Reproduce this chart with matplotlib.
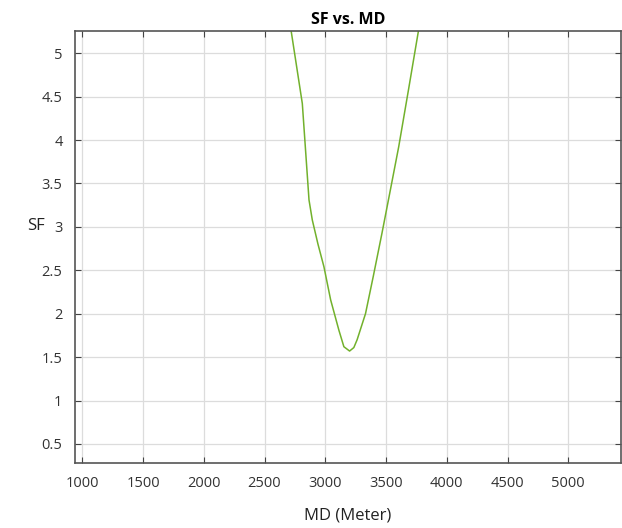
import matplotlib
matplotlib.use("Agg")
import matplotlib.pyplot as plt

# SF vs. MD values
md = [2712, 2811, 2866, 2893, 2940, 2989, 3044, 3112, 3153, 3200, 3235, 3262,
      3331, 3395, 3467, 3535, 3604, 3685, 3772]
sf = [5.32, 4.42, 3.31, 3.08, 2.80, 2.54, 2.16, 1.81, 1.62, 1.57, 1.61, 1.70,
      2.00, 2.43, 2.93, 3.42, 3.92, 4.58, 5.30]

xticks = [1000, 1500, 2000, 2500, 3000, 3500, 4000, 4500, 5000]
yticks = [0.5, 1, 1.5, 2, 2.5, 3, 3.5, 4, 4.5, 5]
ytick_labels = ["0.5", "1", "1.5", "2", "2.5", "3", "3.5", "4", "4.5", "5"]

plt.rcParams["font.family"] = ["Open Sans", "DejaVu Sans"]

fig = plt.figure(figsize=(6.22, 5.28), dpi=100)
ax = fig.add_axes([0.1206, 0.123, 0.877, 0.819])

ax.plot(md, sf, color="#72b12c", lw=1.1)

ax.set_xlim(940, 5430)
ax.set_ylim(0.28, 5.26)
ax.set_xticks(xticks)
ax.set_yticks(yticks)
ax.set_yticklabels(ytick_labels)
ax.grid(True, color="#dcdcdc", lw=0.9)
ax.set_axisbelow(True)
ax.tick_params(direction="in", top=True, right=True, length=4, width=0.8,
               color="#444444", labelcolor="#333333", labelsize=10.5, pad=9)
for s in ax.spines.values():
    s.set_color("#555555")
    s.set_linewidth(1.2)

ax.set_title("SF vs. MD", fontsize=11.5, fontweight="bold", pad=5)
ax.set_xlabel("MD (Meter)", fontsize=12, labelpad=12, color="#222222")
ax.set_ylabel("SF", fontsize=12, rotation=0, color="#222222")
ax.yaxis.set_label_coords(-0.072, 0.53)

fig.savefig("out.png", dpi=100)
